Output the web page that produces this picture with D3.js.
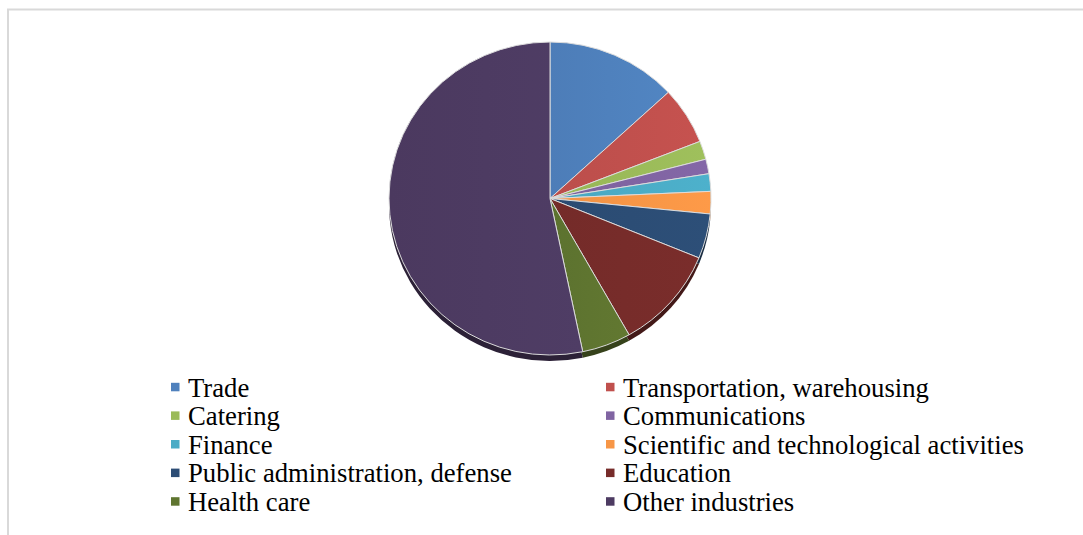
<!DOCTYPE html>
<html>
<head>
<meta charset="utf-8">
<script src="https://cdn.jsdelivr.net/npm/d3@7"></script>
<style>
  html, body { margin: 0; padding: 0; background: #fff; }
  svg { display: block; }
  .leg text { font-family: "Liberation Serif", "Times New Roman", serif; font-size: 26.7px; fill: #000; }
</style>
</head>
<body>
<svg id="chart" width="1083" height="535"></svg>
<script>
const categories = ["Trade", "Transportation, warehousing", "Catering", "Communications", "Finance",
  "Scientific and technological activities", "Public administration, defense", "Education",
  "Health care", "Other industries"];
const values = [13.1, 5.9, 1.9, 1.5, 1.8, 2.3, 4.6, 10.6, 4.9, 53.1];
const colors = ["#4F81BD", "#C0504D", "#9BBB59", "#8064A2", "#4BACC6", "#F79646",
  "#2C4D75", "#772C2A", "#5F7530", "#4D3B62"];

(function () {
const svg = d3.select("#chart");
svg.append("rect").attr("x", 8).attr("y", 9.5).attr("width", 1200).attr("height", 600)
  .attr("fill", "none").attr("stroke", "#d9d9d9").attr("stroke-width", 2);

const cx = 550, cy = 198.5, r = 161, sy = 156.5 / 161;
const data = categories.map((c, i) => ({ name: c, value: values[i], color: colors[i] }));
const pie = d3.pie().value(d => d.value).sort(null);
const arc = d3.arc().innerRadius(0).outerRadius(r);
const arcs = pie(data);

const defs = svg.append("defs");
arcs.forEach((a, i) => {
  const g = defs.append("linearGradient").attr("id", "g" + i)
    .attr("x1", "0%").attr("y1", "0%").attr("x2", "100%").attr("y2", "0%");
  const c = d3.color(a.data.color);
  g.append("stop").attr("offset", "0%").attr("stop-color", c.darker(0.08));
  g.append("stop").attr("offset", "100%").attr("stop-color", c.brighter(0.08));
});

// 3D depth (side)
const depthG = svg.append("g").attr("transform", `translate(${cx},${cy + 6}) scale(1,${sy})`);
depthG.selectAll("path").data(arcs).join("path")
  .attr("d", arc)
  .attr("fill", d => d3.color(d.data.color).darker(1.6));

const topG = svg.append("g").attr("transform", `translate(${cx},${cy}) scale(1,${sy})`);
topG.selectAll("path").data(arcs).join("path")
  .attr("d", arc)
  .attr("fill", (d, i) => `url(#g${i})`)
  .attr("stroke", "#dcdcdc")
  .attr("stroke-width", 1)
  .attr("stroke-linejoin", "round");

// legend
const colX = [171, 606];
const textX = [188, 623];
const rowY = [387.3, 415.9, 444.5, 473.1, 501.7];
const leg = svg.append("g").attr("class", "leg");
data.forEach((d, i) => {
  const col = i % 2, row = Math.floor(i / 2);
  leg.append("rect").attr("x", colX[col]).attr("y", rowY[row] - 4.5)
    .attr("width", 8.5).attr("height", 8.5).attr("fill", d.color);
  leg.append("text").attr("x", textX[col]).attr("y", rowY[row])
    .attr("dy", "0.35em")
    .text(d.name);
});
})();
</script>
</body>
</html>
